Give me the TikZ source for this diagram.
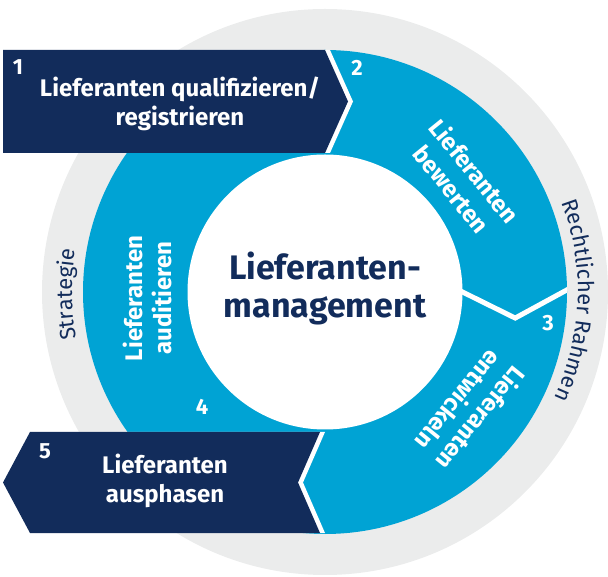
\documentclass[tikz,border=0pt]{standalone}
\usepackage{fontspec}
\setmainfont{Fira Sans}
\usetikzlibrary{calc,decorations.text}
\definecolor{navy}{RGB}{18,44,91}
\definecolor{ringblue}{RGB}{0,163,212}
\definecolor{ringgray}{RGB}{235,236,236}
\tikzset{
  steptext/.style={text=white, font=\bfseries\fontsize{24}{29}\selectfont, align=center},
  stepnum/.style={text=white, font=\bfseries\fontsize{22}{26}\selectfont},
}
\begin{document}
\begin{tikzpicture}[x=1pt,y=1pt]
  \useasboundingbox (0,0) rectangle (608,576);
  \coordinate (c) at (325,284);
  % rings
  \fill[ringgray] (c) circle (283);
  \fill[ringblue] (c) circle (242);
  % separator between 2 and 3
  \begin{scope}
    \clip (c) circle (242);
    \coordinate (sepin) at ($(c)+(0:137.5)$);
    \coordinate (sepmid) at ($(c)+(-7.8:192)$);
    \coordinate (sepout) at ($(c)+(0.5:242)$);
    \draw[white, line width=5] ($(sepmid)!1.3!(sepin)$) -- (sepmid) -- ($(sepmid)!1.3!(sepout)$);
  \end{scope}
  \fill[white] (c) circle (137.5);
  % arrow 1
  \fill[white, xshift=5] (3,526) -- (325,526) -- (348,474.5) -- (325,423) -- (3,423) -- cycle;
  \fill[navy] (3,526) -- (325,526) -- (348,474.5) -- (325,423) -- (3,423) -- cycle;
  % arrow 5
  \fill[white, xshift=5] (30,144) -- (320,144) -- (298,93.5) -- (320,43) -- (30,43) -- (3,93.5) -- cycle;
  \fill[navy] (30,144) -- (320,144) -- (298,93.5) -- (320,43) -- (30,43) -- (3,93.5) -- cycle;
  % numbers
  \node[stepnum] (n1) at (18,509) {1};
  \node[stepnum] (n2) at (357,508) {2};
  \node[stepnum] (n3) at (548,253) {3};
  \node[stepnum] (n4) at (202,169) {4};
  \node[stepnum] (n5) at (45,125) {5};
  % step labels
  \node[steptext] (qualify) at (180,472) {Lieferanten qualifizieren/\\registrieren};
  \node[steptext] (phaseout) at (165,95) {Lieferanten\\ausphasen};
  \node[steptext, rotate=-51] (evaluate) at ($(c)+(39:178)$) {Lieferanten\\bewerten};
  \node[steptext, rotate=-129] (develop) at ($(c)+(-39:187)$) {Lieferanten\\entwickeln};
  \node[steptext, rotate=90] (audit) at ($(c)+(182:178)$) {Lieferanten\\auditieren};
  \node[text=navy, font=\bfseries\fontsize{34}{38}\selectfont, align=center] (core) at ($(c)+(0,4)$) {Lieferanten-\\management};
  % outer ring labels
  \path[decorate, decoration={text along path, text align=center, text color=navy,
    text={|\fontsize{22}{26}\selectfont|Rechtlicher Rahmen}}]
    ($(c)+(43:253)$) arc[start angle=43, end angle=-47, radius=253];
  \path[decorate, decoration={text along path, text align=center, text color=navy,
    text={|\fontsize{22}{26}\selectfont|Strategie}}]
    ($(c)+(225:253)$) arc[start angle=225, end angle=136, radius=253];
\end{tikzpicture}
\end{document}
